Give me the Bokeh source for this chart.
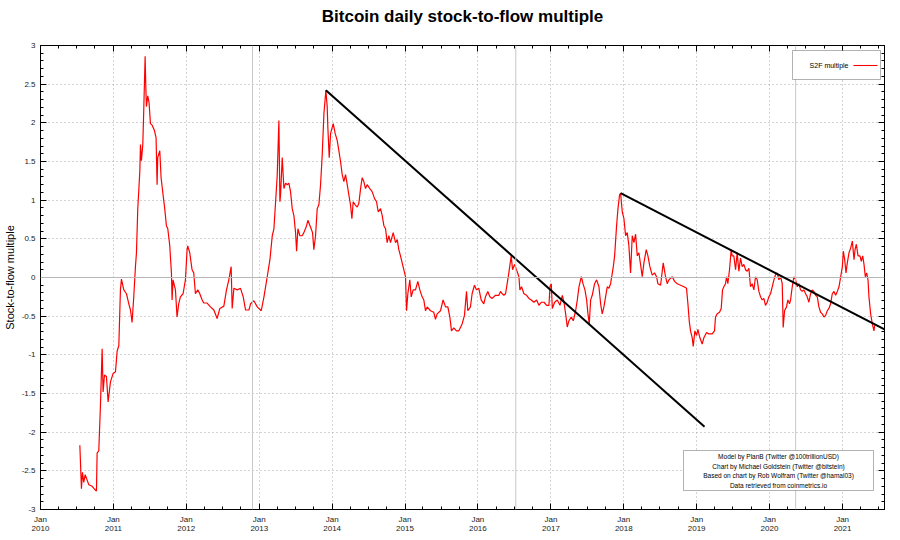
from datetime import datetime
from bokeh.plotting import figure
from bokeh.models import (Range1d, FixedTicker, CustomJSTickFormatter, LinearAxis,
                          Span, BoxAnnotation, Label, Arrow)
from bokeh.embed import file_html
from bokeh.resources import INLINE

chart_title = "Bitcoin daily stock-to-flow multiple"
y_label = "Stock-to-flow multiple"
series_name = "S2F multiple"
credits = [
    "Model by PlanB (Twitter @100trillionUSD)",
    "Chart by Michael Goldstein (Twitter @bitstein)",
    "Based on chart by Rob Wolfram (Twitter @hamal03)",
    "Data retrieved from coinmetrics.io",
]

# time in decimal years, value = stock-to-flow multiple (log10)
s2f_t = [
    2010.540, 2010.562, 2010.576, 2010.594, 2010.613, 2010.640, 2010.663, 2010.709, 2010.754, 2010.768,
    2010.777, 2010.800, 2010.823, 2010.846, 2010.859, 2010.878, 2010.905, 2010.928, 2010.960, 2010.997,
    2011.029, 2011.052, 2011.075, 2011.097, 2011.111, 2011.143, 2011.180, 2011.212, 2011.235, 2011.257,
    2011.280, 2011.303, 2011.317, 2011.335, 2011.363, 2011.372, 2011.385, 2011.404, 2011.417, 2011.436,
    2011.445, 2011.454, 2011.472, 2011.490, 2011.509, 2011.532, 2011.564, 2011.586, 2011.600, 2011.609,
    2011.637, 2011.655, 2011.682, 2011.705, 2011.728, 2011.747, 2011.774, 2011.797, 2011.806, 2011.819,
    2011.852, 2011.874, 2011.897, 2011.920, 2011.957, 2011.989, 2012.012, 2012.021, 2012.048, 2012.080,
    2012.103, 2012.126, 2012.158, 2012.186, 2012.218, 2012.240, 2012.286, 2012.332, 2012.378, 2012.423,
    2012.460, 2012.515, 2012.551, 2012.583, 2012.615, 2012.629, 2012.652, 2012.698, 2012.743, 2012.780,
    2012.812, 2012.858,
    2012.881, 2012.926, 2012.972, 2013.027, 2013.064, 2013.109, 2013.146, 2013.178, 2013.201, 2013.224,
    2013.246, 2013.269, 2013.283, 2013.292, 2013.315, 2013.338, 2013.361, 2013.384, 2013.406, 2013.429,
    2013.452, 2013.475, 2013.498, 2013.512, 2013.530, 2013.557, 2013.589, 2013.612, 2013.649, 2013.667,
    2013.704, 2013.731, 2013.749, 2013.772, 2013.795, 2013.818, 2013.841, 2013.864, 2013.887, 2013.914,
    2013.932, 2013.941, 2013.960, 2013.978, 2014.015, 2014.042, 2014.070, 2014.092, 2014.115, 2014.138,
    2014.161, 2014.184, 2014.207, 2014.229, 2014.252, 2014.271, 2014.289, 2014.316, 2014.344, 2014.367,
    2014.390, 2014.412, 2014.435, 2014.458, 2014.481, 2014.517, 2014.549, 2014.582, 2014.609, 2014.632,
    2014.664, 2014.687, 2014.710, 2014.733, 2014.755, 2014.778, 2014.801, 2014.838, 2014.870, 2014.893,
    2014.915, 2014.938, 2014.961, 2014.984, 2015.007, 2015.021, 2015.039, 2015.066, 2015.085, 2015.112,
    2015.144, 2015.176, 2015.203, 2015.235, 2015.258, 2015.281, 2015.304, 2015.350, 2015.395, 2015.418,
    2015.441, 2015.487, 2015.523, 2015.556, 2015.588, 2015.615, 2015.638, 2015.670, 2015.706, 2015.739,
    2015.784, 2015.816, 2015.844, 2015.862, 2015.898,
    2015.921, 2015.953, 2015.981, 2016.013, 2016.045, 2016.081, 2016.104, 2016.136, 2016.164, 2016.196,
    2016.241, 2016.287, 2016.310, 2016.333, 2016.356, 2016.379, 2016.401, 2016.424, 2016.456, 2016.475,
    2016.502, 2016.529, 2016.562, 2016.575, 2016.598, 2016.630, 2016.667, 2016.699, 2016.731, 2016.767,
    2016.804, 2016.836, 2016.868, 2016.905, 2016.941, 2016.973, 2016.987, 2017.005, 2017.019, 2017.051,
    2017.087, 2017.124, 2017.156, 2017.179, 2017.202, 2017.224, 2017.247, 2017.279, 2017.307, 2017.339,
    2017.362, 2017.385, 2017.417, 2017.440, 2017.467, 2017.490, 2017.508, 2017.526, 2017.545, 2017.567,
    2017.599, 2017.627, 2017.659, 2017.682, 2017.704, 2017.727, 2017.750, 2017.773, 2017.796, 2017.819,
    2017.856, 2017.874, 2017.901, 2017.920, 2017.942, 2017.956, 2017.979, 2018.002, 2018.025, 2018.047,
    2018.070, 2018.093, 2018.116, 2018.139, 2018.162, 2018.185, 2018.207, 2018.230, 2018.253, 2018.276,
    2018.308, 2018.331, 2018.358, 2018.390, 2018.422, 2018.450, 2018.468, 2018.505, 2018.541, 2018.573,
    2018.596, 2018.619,
    2018.665, 2018.697, 2018.733, 2018.779, 2018.825, 2018.861, 2018.880, 2018.898, 2018.916, 2018.939,
    2018.953, 2018.976, 2018.999, 2019.017, 2019.044, 2019.076, 2019.099, 2019.136, 2019.168, 2019.213,
    2019.245, 2019.259, 2019.282, 2019.314, 2019.337, 2019.355, 2019.373, 2019.396, 2019.410, 2019.428,
    2019.451, 2019.474, 2019.487, 2019.510, 2019.534, 2019.556, 2019.579, 2019.602, 2019.625, 2019.648,
    2019.671, 2019.694, 2019.717, 2019.739, 2019.762, 2019.785, 2019.808, 2019.831, 2019.854, 2019.877,
    2019.900, 2019.922, 2019.945, 2019.968, 2019.991, 2020.014, 2020.037, 2020.060, 2020.082, 2020.105,
    2020.128, 2020.151, 2020.174, 2020.187, 2020.206, 2020.233, 2020.251, 2020.274, 2020.288, 2020.311,
    2020.334, 2020.357, 2020.380, 2020.402, 2020.425, 2020.448, 2020.471, 2020.494, 2020.516, 2020.539,
    2020.562, 2020.585, 2020.608, 2020.631, 2020.654, 2020.676, 2020.699, 2020.722, 2020.745, 2020.768,
    2020.791, 2020.813, 2020.836, 2020.859, 2020.882, 2020.905, 2020.928, 2020.951, 2020.974, 2020.997,
    2021.010, 2021.029, 2021.047, 2021.065, 2021.088, 2021.111, 2021.134, 2021.157, 2021.171, 2021.189,
    2021.212, 2021.239, 2021.257, 2021.276, 2021.294, 2021.312, 2021.330, 2021.349, 2021.362, 2021.385,
    2021.408, 2021.431, 2021.440,
]
s2f_v = [
    -2.17, -2.73, -2.52, -2.65, -2.55, -2.62, -2.68, -2.70, -2.75, -2.76,
    -2.27, -2.24, -1.65, -0.92, -1.48, -1.26, -1.28, -1.61, -1.35, -1.24,
    -1.22, -0.95, -0.88, -0.16, -0.02, -0.16, -0.21, -0.34, -0.42, -0.58,
    -0.25, 0.14, 0.32, 0.89, 1.37, 1.72, 1.51, 1.72, 2.16, 2.86,
    2.47, 2.21, 2.35, 2.26, 1.99, 1.97, 1.90, 1.81, 1.20, 1.55,
    1.64, 1.29, 1.07, 0.89, 0.67, 0.63, 0.41, 0.06, -0.29, -0.03,
    -0.16, -0.51, -0.34, -0.25, -0.21, -0.03, 0.36, 0.41, 0.32, 0.10,
    0.06, -0.21, -0.16, -0.21, -0.29, -0.33, -0.33, -0.38, -0.42, -0.53,
    -0.40, -0.37, -0.16, -0.03, 0.14, -0.40, -0.14, -0.16, -0.14, -0.25,
    -0.42, -0.42,
    -0.34, -0.30, -0.38, -0.43, -0.25, 0.01, 0.23, 0.54, 0.63, 0.98,
    1.32, 2.03, 0.98, 1.07, 1.55, 1.15, 1.22, 1.20, 1.22, 1.11,
    0.89, 0.80, 0.58, 0.34, 0.63, 0.54, 0.54, 0.58, 0.67, 0.74,
    0.65, 0.58, 0.36, 0.54, 0.89, 0.94, 1.20, 1.59, 2.12, 2.42,
    2.21, 1.94, 1.55, 1.86, 1.99, 1.86, 1.77, 1.64, 1.50, 1.33,
    1.24, 1.33, 1.20, 1.07, 0.94, 0.76, 0.98, 0.94, 0.91, 0.96,
    1.15, 1.29, 1.24, 1.15, 1.20, 1.15, 1.11, 1.02, 0.98, 0.85,
    0.89, 0.80, 0.67, 0.63, 0.45, 0.54, 0.45, 0.58, 0.45, 0.49,
    0.36, 0.28, 0.19, 0.10, 0.01, -0.43, -0.21, -0.03, -0.25, -0.16,
    -0.16, -0.05, -0.16, -0.25, -0.29, -0.43, -0.38, -0.43, -0.45, -0.54,
    -0.47, -0.43, -0.29, -0.38, -0.38, -0.51, -0.69, -0.65, -0.69, -0.69,
    -0.60, -0.49, -0.18, -0.43, -0.38,
    -0.21, -0.10, -0.16, -0.14, -0.29, -0.34, -0.25, -0.18, -0.25, -0.27,
    -0.23, -0.23, -0.18, -0.21, -0.23, -0.21, -0.08, 0.06, 0.28, 0.10,
    0.17, 0.10, 0.01, -0.16, -0.12, -0.21, -0.23, -0.27, -0.29, -0.32,
    -0.29, -0.36, -0.32, -0.32, -0.36, -0.36, -0.12, -0.08, -0.40, -0.32,
    -0.29, -0.36, -0.23, -0.32, -0.47, -0.64, -0.56, -0.51, -0.56, -0.43,
    -0.29, -0.12, 0.01, -0.08, -0.16, -0.29, -0.47, -0.60, -0.29, -0.23,
    -0.08, -0.03, -0.12, -0.34, -0.47, -0.38, -0.25, -0.12, -0.14, -0.08,
    0.14, 0.28, 0.67, 0.89, 1.07, 1.09, 0.85, 0.76, 0.54, 0.58,
    0.41, 0.06, 0.54, 0.45, 0.56, 0.28, 0.32, 0.17, 0.01, 0.19,
    0.36, 0.28, 0.14, 0.03, 0.06, 0.01, -0.08, -0.10, 0.19, 0.01,
    -0.08, -0.03,
    0.01, -0.05, -0.08, -0.10, -0.12, -0.14, -0.34, -0.56, -0.69, -0.78,
    -0.89, -0.69, -0.75, -0.67, -0.78, -0.86, -0.78, -0.71, -0.73, -0.73,
    -0.69, -0.51, -0.47, -0.45, -0.40, -0.16, -0.12, -0.08, 0.01, -0.08,
    0.10, 0.36, 0.28, 0.28, 0.10, 0.32, 0.08, 0.25, 0.14, 0.17,
    0.10, 0.08, 0.12, -0.12, -0.08, -0.16, 0.01, -0.03, -0.18, -0.25,
    -0.29, -0.27, -0.36, -0.32, -0.25, -0.21, -0.12, -0.03, 0.035, 0.06,
    -0.03, 0.01, -0.08, -0.645, -0.43, -0.38, -0.29, -0.34, -0.29, -0.12,
    0.01, -0.03, -0.12, -0.08, -0.16, -0.18, -0.16, -0.21, -0.25, -0.32,
    -0.21, -0.16, -0.18, -0.23, -0.25, -0.38, -0.45, -0.47, -0.51, -0.49,
    -0.43, -0.40, -0.34, -0.21, -0.18, -0.23, -0.18, -0.12, 0.01, 0.14,
    0.34, 0.23, 0.06, 0.19, 0.32, 0.38, 0.47, 0.23, 0.36, 0.43,
    0.28, 0.28, 0.21, 0.28, 0.17, 0.01, 0.06, -0.03, -0.25, -0.47,
    -0.60, -0.69, -0.62,
]

# trend lines drawn on the chart (decimal year, value)
trend1_t = [2013.914, 2019.108]
trend1_v = [2.42, -1.93]
trend2_t = [2017.956, 2021.800]
trend2_v = [1.09, -0.78]

halving_dates = ["2012-11-28", "2016-07-09", "2020-05-11"]
tick_years = list(range(2010, 2022))
y_ticks = [-3, -2.5, -2, -1.5, -1, -0.5, 0, 0.5, 1, 1.5, 2, 2.5, 3]

FONT = "Liberation Sans"
EPOCH = datetime(1970, 1, 1)


def to_dt(t):
    y = int(t)
    a, b = datetime(y, 1, 1), datetime(y + 1, 1, 1)
    return a + (b - a) * (t - y)


def ms(d):
    return (d - EPOCH).total_seconds() * 1000.0


dates = [to_dt(t) for t in s2f_t]

p = figure(width=900, height=540, x_axis_type="datetime", output_backend="svg",
           toolbar_location=None,
           x_range=Range1d(datetime(2010, 1, 1), datetime(2021, 7, 30)),
           y_range=Range1d(-3, 3),
           min_border_left=40, min_border_right=16, min_border_top=45, min_border_bottom=31)
p.background_fill_color = "white"
p.border_fill_color = "white"
p.outline_line_color = "black"
p.outline_line_width = 1

xmajor = [ms(datetime(y, 1, 1)) for y in tick_years]
xminor = [ms(datetime(y, m, 1)) for y in range(2010, 2022) for m in (4, 7, 10)]
xticker = FixedTicker(ticks=xmajor, minor_ticks=xminor)
yminor = [round(-3 + 0.1 * i, 1) for i in range(61)]
yticker = FixedTicker(ticks=y_ticks, minor_ticks=yminor)

xfmt = CustomJSTickFormatter(code="const d = new Date(tick); return 'Jan\\n' + d.getUTCFullYear();")
yfmt = CustomJSTickFormatter(code="return String(Math.round(tick * 10) / 10);")
blank = CustomJSTickFormatter(code="return '';")


def style_axis(ax):
    ax.axis_line_color = "black"
    ax.major_tick_line_color = "black"
    ax.minor_tick_line_color = "black"
    ax.major_tick_in = 6
    ax.major_tick_out = 0
    ax.minor_tick_in = 3
    ax.minor_tick_out = 0
    ax.major_label_text_font = FONT
    ax.major_label_text_font_size = "8px"
    ax.major_label_text_color = "#222222"


xa = p.below[0]
xa.ticker = xticker
xa.formatter = xfmt
style_axis(xa)
xa.major_label_standoff = 5
xa.major_label_text_line_height = 1.05

ya = p.left[0]
ya.ticker = yticker
ya.formatter = yfmt
style_axis(ya)
ya.major_label_standoff = 5
ya.axis_label = y_label
ya.axis_label_text_font = FONT
ya.axis_label_text_font_size = "11px"
ya.axis_label_text_font_style = "normal"
ya.axis_label_text_color = "black"
ya.axis_label_standoff = 3

ra = LinearAxis(ticker=yticker, formatter=blank, major_label_standoff=0)
style_axis(ra)
p.add_layout(ra, "right")

# top mirror axis; its axis label carries the chart title
ta = LinearAxis(ticker=xticker, formatter=blank, major_label_standoff=0)
style_axis(ta)
ta.axis_label = chart_title
ta.axis_label_text_font = FONT
ta.axis_label_text_font_size = "17px"
ta.axis_label_text_font_style = "bold"
ta.axis_label_text_color = "black"
ta.axis_label_standoff = 20
p.add_layout(ta, "above")

p.xgrid.ticker = xticker
p.ygrid.ticker = yticker
for g in (p.xgrid, p.ygrid):
    g.grid_line_color = "#a8a8a8"
    g.grid_line_dash = "1 3"
    g.grid_line_width = 1

for d in halving_dates:
    p.add_layout(Span(location=ms(datetime.strptime(d, "%Y-%m-%d")), dimension="height",
                      line_color="#c8c8c8", line_width=1))
p.add_layout(Span(location=0, dimension="width", line_color="#b8b8b8", line_width=1))

p.line(dates, s2f_v, line_color="#ff0000", line_width=1.2)
p.line([to_dt(t) for t in trend1_t], trend1_v, line_color="black", line_width=2)
p.add_layout(Arrow(x_start=ms(to_dt(trend2_t[0])), y_start=trend2_v[0],
                   x_end=ms(to_dt(trend2_t[1])), y_end=trend2_v[1],
                   start=None, end=None, line_color="black", line_width=2))

# legend box (gnuplot style: text then sample), frame-relative screen units
p.add_layout(BoxAnnotation(left=752, right=840, top=459, bottom=430,
                           left_units="screen", right_units="screen",
                           top_units="screen", bottom_units="screen",
                           fill_color="white", fill_alpha=1,
                           line_color="black", line_width=1))
p.add_layout(Label(x=808, y=444, x_units="screen", y_units="screen", text=series_name,
                   text_font=FONT, text_font_size="7px", text_align="right",
                   text_baseline="middle", text_color="black"))
p.add_layout(BoxAnnotation(left=813, right=837, top=444.6, bottom=443.4,
                           left_units="screen", right_units="screen",
                           top_units="screen", bottom_units="screen",
                           fill_color="#ff0000", fill_alpha=1, line_color="#ff0000",
                           line_width=0.2))

# credits box
p.add_layout(BoxAnnotation(left=643, right=833, top=59, bottom=19,
                           left_units="screen", right_units="screen",
                           top_units="screen", bottom_units="screen",
                           fill_color="white", fill_alpha=1,
                           line_color="black", line_width=1))
for i, txt in enumerate(credits):
    p.add_layout(Label(x=738, y=53 - i * 9.7, x_units="screen", y_units="screen", text=txt,
                       text_font=FONT, text_font_size="6.5px", text_align="center",
                       text_baseline="middle", text_color="black"))

open("out.html", "w").write(file_html(p, INLINE))
